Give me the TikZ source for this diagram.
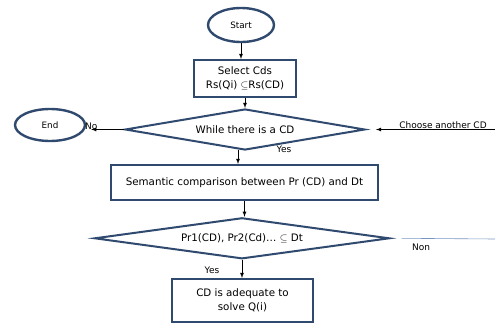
\documentclass[tikz,border=0pt]{standalone}
\usepackage{fontspec}
\setmainfont{DejaVu Sans}
\usepackage{amsmath,amssymb}
\usepackage{tikz}
\usetikzlibrary{arrows,shapes.geometric,calc}

\definecolor{boxblue}{RGB}{47,74,110}
\definecolor{nonblue}{RGB}{120,150,195}

\begin{document}
\begin{tikzpicture}[x=1pt,y=-1pt,
    term/.style={ellipse,draw=boxblue,line width=2.4pt,inner sep=0pt,font=\fontsize{8.8}{10}\selectfont},
    proc/.style={rectangle,draw=boxblue,line width=2pt,inner sep=0pt,align=center,font=\fontsize{10.3}{13.5}\selectfont},
    test/.style={diamond,draw=boxblue,line width=2pt,inner sep=0pt,aspect=6,font=\fontsize{10.3}{12}\selectfont},
    flow/.style={->,>=latex,line width=0.8pt},
    tag/.style={inner sep=0pt,font=\fontsize{9}{10}\selectfont}]
    \useasboundingbox (0,0) rectangle (495,324);

    % Draw the terminals
    \node[term,minimum width=66pt,minimum height=34pt] (start) at (241,25) {Start};
    \node[term,minimum width=70pt,minimum height=32pt] (end) at (50,125) {End};

    % Draw the boxes
    \node[proc,minimum width=102pt,minimum height=37pt] (select) at (245,78.5)
      {Select Cds\\Rs(Qi) $\subseteq$Rs(CD)};
    \node[proc,minimum width=267pt,minimum height=35pt] (semantic) at (244.5,182.5)
      {Semantic comparison between Pr (CD) and Dt};
    \node[proc,minimum width=141pt,minimum height=43pt] (adequate) at (242.5,300.5)
      {CD is adequate to\\solve Q(i)};

    % Draw the tests
    \node[test,minimum width=240pt,minimum height=41pt] (while) at (245,129.5) {While there is a CD};
    \node[test,minimum width=295pt,minimum height=41pt] (cond) at (242,238.3)
      {Pr1(CD), Pr2(Cd)\dots\ $\subseteq$ Dt};

    % Free ends
    \coordinate (other) at (495,129.5);
    \coordinate (nonend) at (495,239);

    % Draw the arrows
    \draw[flow] (start.south) -- (start.south |- select.north);
    \draw[flow] (select.south) -- (select.south |- while.north);
    \draw[flow] ($(while.south)+(-7,-1.2)$) -- ($(while.south |- semantic.north)+(-7,0)$);
    \draw[flow] (semantic.south) -- (semantic.south |- cond.north);
    \draw[flow] (cond.south) -- (cond.south |- adequate.north);
    \draw[flow,shorten >=5pt] (while.west) -- (while.west -| end.east);
    \draw[flow,shorten >=10pt] (other) -- (while.east |- other);
    \draw[nonblue,line width=0.6pt] ($(cond.east)+(11,0)$) -- (nonend);

    % Add labels
    \node[tag,anchor=west] (no) at (85,126) {No};
    \node[tag] (choose) at (443,125.5) {Choose another CD};
    \node[tag] (yes1) at (284,149) {Yes};
    \node[tag] (non) at (421,247) {Non};
    \node[tag] (yes2) at (212,270) {Yes};
\end{tikzpicture}
\end{document}
